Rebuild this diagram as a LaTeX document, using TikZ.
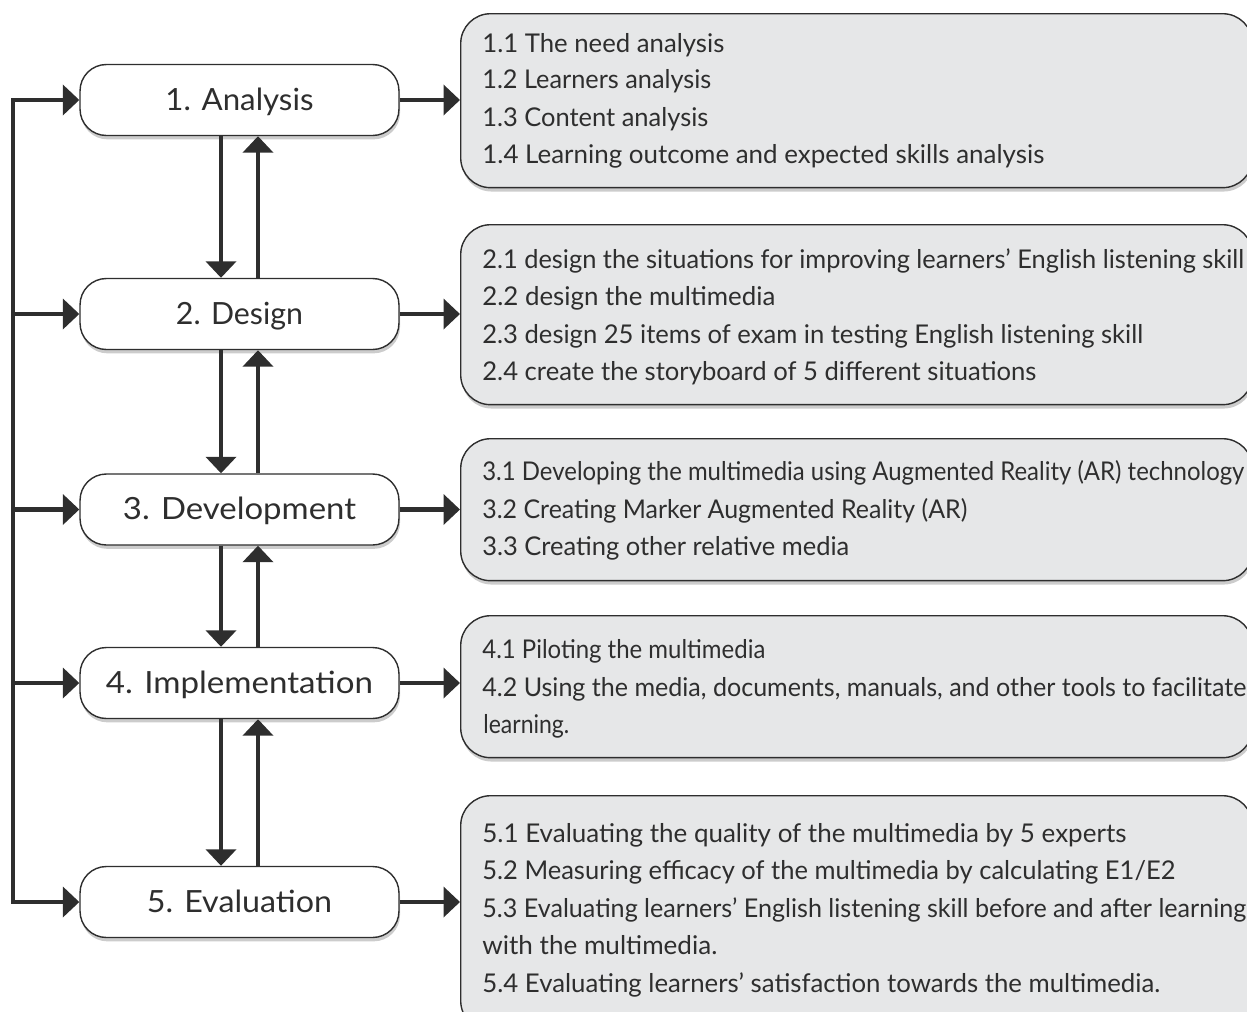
\documentclass[tikz,border=0pt]{standalone}
\usepackage{fontspec}
\usepackage{graphicx}
\setmainfont{Lato}
\usetikzlibrary{arrows.meta,shadows}
\definecolor{panelgray}{HTML}{E6E7E8}
\definecolor{inkgray}{HTML}{2E2E2E}
% scale a text horizontally to a width given in picture pixels (1px = 0.02cm)
\newcommand{\fitto}[2]{\resizebox{\dimexpr 0.02cm*#1\relax}{\height}{#2}}
\begin{document}
\begin{tikzpicture}[x=0.02cm,y=-0.02cm,
  stage/.style={draw=inkgray, line width=0.8pt, fill=white, rounded corners=15pt,
    minimum width=6.38cm, minimum height=1.42cm, inner sep=0pt,
    text height=0.4cm, text depth=0pt,
    font=\fontsize{17.4}{20}\selectfont, text=inkgray,
    drop shadow={shadow xshift=0.6pt, shadow yshift=-2.2pt, opacity=0.2, fill=black}},
  panel/.style={draw=inkgray, line width=0.8pt, fill=panelgray, rounded corners=17pt,
    minimum width=15.84cm, inner sep=0pt, anchor=north west,
    drop shadow={shadow xshift=0.6pt, shadow yshift=-2.2pt, opacity=0.2, fill=black}},
  item/.style={anchor=base west, inner sep=0pt, text=inkgray, font=\fontsize{14.7}{17}\selectfont},
  flow/.style={line width=2.3pt, draw=inkgray, -{Triangle[length=0.33cm,width=0.6cm]}},
  loopline/.style={line width=2.3pt, draw=inkgray, line cap=rect}
]
\useasboundingbox (0,0) rectangle (1247,1011);

% left stage boxes
\node[stage] (a1) at (239.5,100) {\fitto{148}{1. Analysis}};
\node[stage] (a2) at (239.5,314) {\fitto{127}{2. Design}};
\node[stage] (a3) at (239.5,509.5) {\fitto{233}{3. Development}};
\node[stage] (a4) at (239.5,683) {\fitto{267}{4. Implementation}};
\node[stage] (a5) at (239.5,902) {\fitto{185}{5. Evaluation}};

% right panels
\node[panel, minimum height=3.48cm] (r1) at (460,13) {};
\node[panel, minimum height=3.60cm] (r2) at (460,224) {};
\node[panel, minimum height=2.84cm] (r3) at (460,438) {};
\node[panel, minimum height=2.84cm] (r4) at (460,615) {};
\node[panel, minimum height=4.70cm] (r5) at (460,795) {};

% panel texts
\node[item] (t11) at (482,52) {\fitto{242}{1.1 The need analysis}};
\node[item] (t12) at (482,88) {\fitto{229}{1.2 Learners analysis}};
\node[item] (t13) at (482,126) {\fitto{226}{1.3 Content analysis}};
\node[item] (t14) at (482,163) {\fitto{562}{1.4 Learning outcome and expected skills analysis}};

\node[item] (t21) at (482,268) {\fitto{762}{2.1 design the situations for improving learners’ English listening skill}};
\node[item] (t22) at (482,305) {\fitto{293}{2.2 design the multimedia}};
\node[item] (t23) at (482,343) {\fitto{661}{2.3 design 25 items of exam in testing English listening skill}};
\node[item] (t24) at (482,380) {\fitto{554}{2.4 create the storyboard of 5 different situations}};

\node[item] (t31) at (482,480) {\fitto{762}{3.1 Developing the multimedia using Augmented Reality (AR) technology}};
\node[item] (t32) at (482,518) {\fitto{485}{3.2 Creating Marker Augmented Reality (AR)}};
\node[item] (t33) at (482,555) {\fitto{367}{3.3 Creating other relative media}};

\node[item] (t41) at (482,658) {\fitto{283}{4.1 Piloting the multimedia}};
\node[item] (t42) at (482,696) {\fitto{764}{4.2 Using the media, documents, manuals, and other tools to facilitate}};
\node[item] (t43) at (483,733) {\fitto{86}{learning.}};

\node[item] (t51) at (482,842) {\fitto{644}{5.1 Evaluating the quality of the multimedia by 5 experts}};
\node[item] (t52) at (482,879) {\fitto{693}{5.2 Measuring efficacy of the multimedia by calculating E1/E2}};
\node[item] (t53) at (482,917) {\fitto{764}{5.3 Evaluating learners’ English listening skill before and after learning}};
\node[item] (t54) at (482,954) {\fitto{235}{with the multimedia.}};
\node[item] (t55) at (482,992) {\fitto{678}{5.4 Evaluating learners’ satisfaction towards the multimedia.}};

% arrows stage -> panel
\foreach \i in {1,...,5}{
  \draw[flow] (a\i.east) -- (a\i.east -| r\i.west);
}

% down / up arrows between stages
\foreach \i/\j in {1/2,2/3,3/4,4/5}{
  \draw[flow] ([xshift=-0.37cm]a\i.south) -- ([xshift=-0.37cm]a\j.north);
  \draw[flow] ([xshift=0.37cm]a\j.north) -- ([xshift=0.37cm]a\i.south);
}

% feedback loop on the left
\coordinate (lp) at (13,0);
\draw[loopline] (lp |- a1.west) -- (lp |- a5.west);
\foreach \i in {1,...,5}{
  \draw[flow] (lp |- a\i.west) -- (a\i.west);
}
\end{tikzpicture}
\end{document}
